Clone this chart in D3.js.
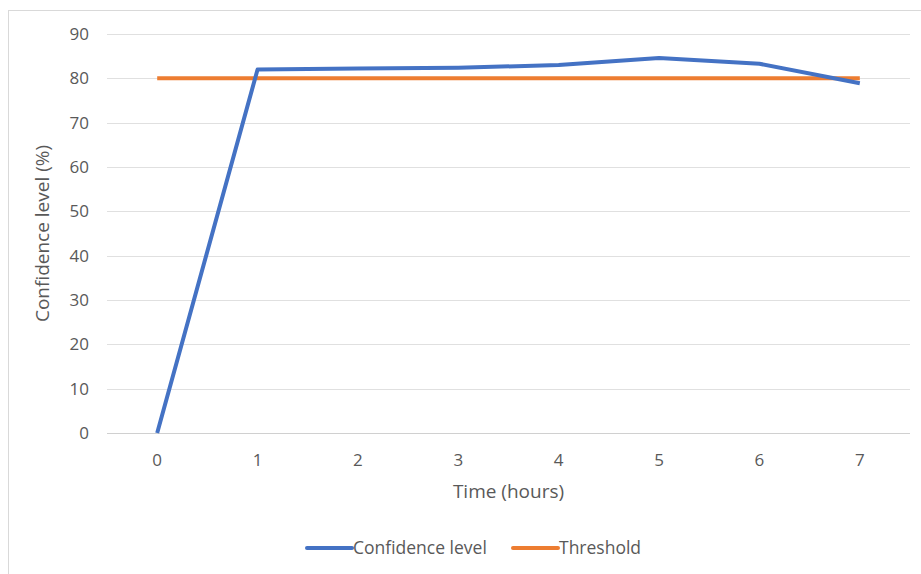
<!DOCTYPE html>
<meta charset="utf-8">
<html>
<head>
<style>
  body { margin: 0; background: #fff; }
  text { font-family: "Open Sans", "Noto Sans", sans-serif; fill: #595959; }
</style>
</head>
<body>
<svg width="921" height="574"></svg>
<script src="https://d3js.org/d3.v7.min.js"></script>
<script>
// chart data
var hours = [0, 1, 2, 3, 4, 5, 6, 7];
var confidence = [0, 82.0, 82.2, 82.4, 83.0, 84.6, 83.3, 78.9];
var threshold = [80, 80, 80, 80, 80, 80, 80, 80];
var yTicks = [0, 10, 20, 30, 40, 50, 60, 70, 80, 90];
var seriesNames = ["Confidence level", "Threshold"];
var seriesColors = ["#4472C4", "#ED7D31"];

var svg = d3.select("svg"),
    margin = {top: 34, right: 11, bottom: 141, left: 107},
    width = +svg.attr("width") - margin.left - margin.right,
    height = +svg.attr("height") - margin.top - margin.bottom;

// chart frame
svg.append("rect")
    .attr("x", 8.5).attr("y", 10.5)
    .attr("width", 930).attr("height", 600)
    .attr("fill", "none")
    .attr("stroke", "#d9d9d9");

var g = svg.append("g").attr("transform", "translate(" + margin.left + "," + margin.top + ")");

var x = d3.scaleBand().domain(hours).range([0, width]);
var y = d3.scaleLinear().domain([0, 90]).range([height, 0]);

// gridlines
g.selectAll(".grid")
  .data(yTicks)
  .enter().append("line")
    .attr("x1", 0).attr("x2", width)
    .attr("y1", function(d) { return Math.round(y(d)) + 0.5; })
    .attr("y2", function(d) { return Math.round(y(d)) + 0.5; })
    .attr("stroke", function(d) { return d === 0 ? "#d0d0d0" : "#e0e0e0"; })
    .attr("stroke-width", 1);

// y tick labels
g.selectAll(".ylab")
  .data(yTicks)
  .enter().append("text")
    .attr("x", -18)
    .attr("y", function(d) { return y(d); })
    .attr("dy", "0.35em")
    .attr("text-anchor", "end")
    .style("font-size", "17px")
    .text(function(d) { return d; });

// x tick labels
g.selectAll(".xlab")
  .data(hours)
  .enter().append("text")
    .attr("x", function(d) { return x(d) + x.bandwidth() / 2; })
    .attr("y", height + 33)
    .attr("text-anchor", "middle")
    .style("font-size", "17px")
    .text(function(d) { return d; });

// axis titles
g.append("text")
    .attr("x", width / 2)
    .attr("y", height + 65)
    .attr("text-anchor", "middle")
    .style("font-size", "19px")
    .text("Time (hours)");

g.append("text")
    .attr("transform", "rotate(-90)")
    .attr("x", -height / 2)
    .attr("y", -58)
    .attr("text-anchor", "middle")
    .style("font-size", "19px")
    .text("Confidence level (%)");

var line = d3.line()
    .x(function(d, i) { return x(hours[i]) + x.bandwidth() / 2; })
    .y(function(d) { return y(d); });

[threshold, confidence].forEach(function(vals, k) {
  g.append("path")
      .datum(vals)
      .attr("fill", "none")
      .attr("stroke", k === 0 ? seriesColors[1] : seriesColors[0])
      .attr("stroke-width", 4)
      .attr("stroke-linejoin", "round")
      .attr("d", line);
});

// legend
var legendX = [307, 513];
var legend = svg.append("g");
seriesNames.forEach(function(name, i) {
  legend.append("line")
      .attr("x1", legendX[i]).attr("x2", legendX[i] + 45)
      .attr("y1", 548).attr("y2", 548)
      .attr("stroke", seriesColors[i])
      .attr("stroke-width", 4)
      .attr("stroke-linecap", "round");
  legend.append("text")
      .attr("x", legendX[i] + 46)
      .attr("y", 548)
      .attr("dy", "0.35em")
      .style("font-size", "17.5px")
      .text(name);
});
</script>
</body>
</html>
